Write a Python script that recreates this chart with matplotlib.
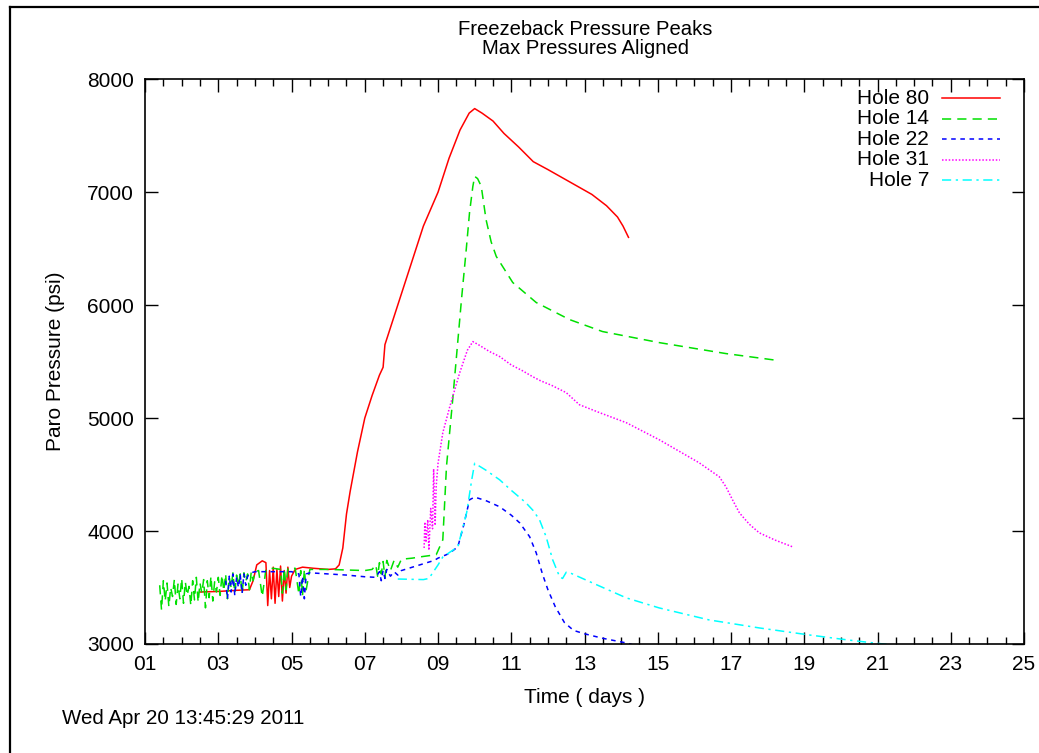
import matplotlib
matplotlib.use("Agg")
import numpy as np
from matplotlib import pyplot as plt
from matplotlib.lines import Line2D
from matplotlib.ticker import MultipleLocator

plt.rcParams['font.family'] = ['Liberation Sans', 'DejaVu Sans']

# Hole 80 (days, psi)
h80_t = [2.5, 3.0, 3.5, 3.85, 3.95, 4.05, 4.2, 4.3, 4.35, 4.4, 4.45, 4.5, 4.55, 4.6, 4.65,
         4.7, 4.75, 4.8, 4.85, 4.9, 4.95, 5.0, 5.1, 5.3, 5.6, 6.0, 6.2, 6.3, 6.4, 6.5, 6.6,
         6.8, 7.0, 7.2, 7.4, 7.5, 7.55, 7.7, 8.0, 8.3, 8.6, 9.0, 9.3, 9.6, 9.85, 10.0, 10.2,
         10.5, 10.8, 11.2, 11.6, 12.0, 12.6, 13.2, 13.6, 13.9, 14.05, 14.2]
h80_p = [3460, 3465, 3475, 3480, 3560, 3700, 3736, 3720, 3340, 3650, 3400, 3680, 3360, 3660, 3420,
         3690, 3380, 3650, 3450, 3680, 3500, 3600, 3660, 3680, 3670, 3660, 3665, 3700, 3850, 4150, 4350,
         4700, 5000, 5200, 5380, 5450, 5650, 5800, 6100, 6400, 6700, 7000, 7300, 7550, 7700, 7740, 7700,
         7630, 7520, 7400, 7270, 7200, 7090, 6980, 6880, 6780, 6700, 6600]

# Hole 14
h14_t = [1.40, 1.45, 1.50, 1.55, 1.60, 1.65, 1.70, 1.75, 1.80, 1.85, 1.90, 1.95, 2.00, 2.05,
         2.10, 2.15, 2.20, 2.25, 2.30, 2.35, 2.40, 2.45, 2.50, 2.55, 2.60, 2.65, 2.70, 2.75,
         2.80, 2.85, 2.90, 2.95, 3.00, 3.05, 3.10, 3.15, 3.20, 3.25, 3.30, 3.35, 3.40, 3.45,
         3.50, 3.55, 3.60, 3.65, 3.70, 3.75, 3.80, 3.85, 3.90, 3.95, 4.00, 4.1, 4.2, 4.3, 4.5,
         4.7, 4.75, 4.8, 4.85, 4.9, 5.1, 5.2, 5.25, 5.3, 5.35, 5.4, 5.5, 6.0, 6.5, 7.0, 7.2,
         7.3, 7.35, 7.4, 7.45, 7.5, 7.55, 7.6, 7.7, 7.8, 7.9, 8.0, 8.3, 8.6, 8.95, 9.13, 9.23,
         9.4, 9.64, 9.77, 9.86, 9.95, 10.0, 10.08, 10.18, 10.31, 10.45, 10.59, 11.04, 11.68,
         12.59, 13.49, 15.04, 16.86, 18.23]
h14_p = [3520, 3300, 3560, 3380, 3540, 3330, 3500, 3420, 3570, 3350, 3530, 3400, 3580, 3360,
         3550, 3430, 3510, 3340, 3560, 3390, 3590, 3370, 3540, 3450, 3570, 3320, 3560, 3410,
         3600, 3380, 3550, 3460, 3590, 3430, 3610, 3470, 3620, 3400, 3590, 3500, 3630, 3450,
         3610, 3520, 3620, 3440, 3630, 3550, 3620, 3480, 3640, 3560, 3640, 3650, 3420, 3660, 3670,
         3660, 3450, 3670, 3480, 3670, 3670, 3440, 3650, 3430, 3660, 3480, 3660, 3660, 3655, 3650, 3660,
         3700, 3600, 3720, 3620, 3730, 3590, 3740, 3650, 3740, 3680, 3750, 3760, 3775, 3790, 3922, 4570,
         5163, 6050, 6493, 6820, 7050, 7140, 7120, 7052, 6758, 6560, 6431, 6200, 6023,
         5872, 5766, 5668, 5571, 5512]

# Hole 22
h22_t = [3.20, 3.25, 3.30, 3.35, 3.40, 3.45, 3.50, 3.55, 3.60, 3.65, 3.70, 3.75, 3.80, 3.90,
         4.0, 4.3, 4.6, 5.0, 5.2, 5.25, 5.3, 5.35, 5.4, 5.5, 6.0, 6.5, 7.0, 7.3, 7.4, 7.45, 7.5,
         7.55, 7.6, 7.7, 7.8, 7.9, 8.0, 8.5, 8.9, 9.0, 9.3, 9.54, 9.7, 9.86, 10.0, 10.3, 10.68,
         11.0, 11.23, 11.5, 11.68, 11.85, 12.0, 12.2, 12.45, 12.7, 13.0, 13.5, 14.14, 14.3]
h22_p = [3560, 3400, 3600, 3460, 3620, 3430, 3590, 3500, 3610, 3450, 3620, 3520, 3600, 3630,
         3640, 3640, 3640, 3640, 3620, 3420, 3600, 3400, 3620, 3630, 3620, 3610, 3595, 3590, 3640, 3560, 3650,
         3580, 3660, 3600, 3640, 3610, 3650, 3700, 3740, 3760, 3800, 3860, 4050, 4277, 4300, 4270, 4215,
         4140, 4072, 3950, 3807, 3620, 3480, 3330, 3190, 3120, 3090, 3050, 3009, 2995]

# Hole 31
h31_t = [8.62, 8.64, 8.67, 8.72, 8.75, 8.8, 8.85, 8.88, 8.92, 8.95, 9.0, 9.13, 9.32, 9.59, 9.8,
         9.95, 10.1, 10.4, 10.68, 11.0, 11.3, 11.58, 11.8, 12.1, 12.5, 12.86, 13.41, 14.14, 15.04,
         16.13, 16.68, 16.86, 17.05, 17.23, 17.5, 17.77, 18.2, 18.68]
h31_p = [3850, 4080, 3900, 4100, 3830, 4200, 4020, 4550, 4050, 4400, 4600, 4870, 5100, 5400, 5600,
         5677, 5650, 5590, 5545, 5470, 5420, 5367, 5330, 5290, 5225, 5118, 5048, 4959, 4808,
         4604, 4480, 4392, 4270, 4160, 4060, 3984, 3920, 3860]

# Hole 7
h7_t = [7.9, 8.6, 8.75, 9.0, 9.13, 9.54, 9.78, 9.92, 10.0, 10.3, 10.68, 11.0, 11.4, 11.6, 11.77,
        11.95, 12.13, 12.32, 12.4, 12.5, 12.6, 13.22, 14.14, 15.04, 16.4, 17.77, 19.13, 20.2, 21.0, 21.5]
h7_p = [3575, 3570, 3580, 3700, 3770, 3860, 4160, 4454, 4600, 4540, 4454, 4360, 4250, 4180, 4100,
        3950, 3745, 3594, 3580, 3635, 3630, 3540, 3408, 3319, 3213, 3142, 3080, 3035, 3005, 2990]

labels = ["Hole 80", "Hole 14", "Hole 22", "Hole 31", "Hole 7"]
series = [(h80_t, h80_p), (h14_t, h14_p), (h22_t, h22_p), (h31_t, h31_p), (h7_t, h7_p)]
colors = ["#ff0000", "#00e000", "#0000ff", "#ff00ff", "#00ffff"]
styles = ["-", (0, (6, 4)), (0, (3, 3)), (0, (1, 1.2)), (0, (6, 3, 1.5, 3))]

fig = plt.figure(figsize=(10.39, 7.53), dpi=100)
ax = fig.add_axes([0.1396, 0.1448, 0.846, 0.750])

for (t, p), c, ls in zip(series, colors, styles):
    ax.plot(t, p, color=c, linestyle=ls, lw=1.1)

ax.set_xlim(1, 25)
ax.set_ylim(3000, 8000)
ax.xaxis.set_minor_locator(MultipleLocator(0.5))
ax.yaxis.set_major_locator(MultipleLocator(1000))
ax.set_xticks(range(1, 26, 2))
ax.set_xticklabels(["%02d" % d for d in range(1, 26, 2)])
ax.tick_params(which='both', direction='in', top=True, right=True, labelsize=15, pad=8, width=1)
ax.tick_params(which='major', length=9)
ax.tick_params(which='minor', length=5)
for s in ax.spines.values():
    s.set_linewidth(1.2)

ax.set_xlabel("Time ( days )", fontsize=15, labelpad=10)
ax.set_ylabel("Paro Pressure (psi)", fontsize=15, labelpad=16)
fig.text(0.5635, 0.961, "Freezeback Pressure Peaks", ha='center', va='center', fontsize=14.6)
fig.text(0.5635, 0.935, "Max Pressures Aligned", ha='center', va='center', fontsize=14.6)
fig.text(0.06, 0.046, "Wed Apr 20 13:45:29 2011", ha='left', va='center', fontsize=14.8)

# key, gnuplot style: right-aligned labels with sample line after
for i, (lab, c, ls) in enumerate(zip(labels, colors, styles)):
    y = 0.966 - i * 0.0362
    ax.text(0.892, y, lab, transform=ax.transAxes, ha='right', va='center', fontsize=15)
    ax.plot([0.907, 0.973], [y, y], transform=ax.transAxes, color=c, linestyle=ls, lw=1.1)

# outer page frame
fig.add_artist(Line2D([0.0096, 0.0096], [0.0, 0.9907], color='black', lw=1.6))
fig.add_artist(Line2D([0.0096, 1.0], [0.9907, 0.9907], color='black', lw=1.6))

fig.savefig("out.png", dpi=100)
